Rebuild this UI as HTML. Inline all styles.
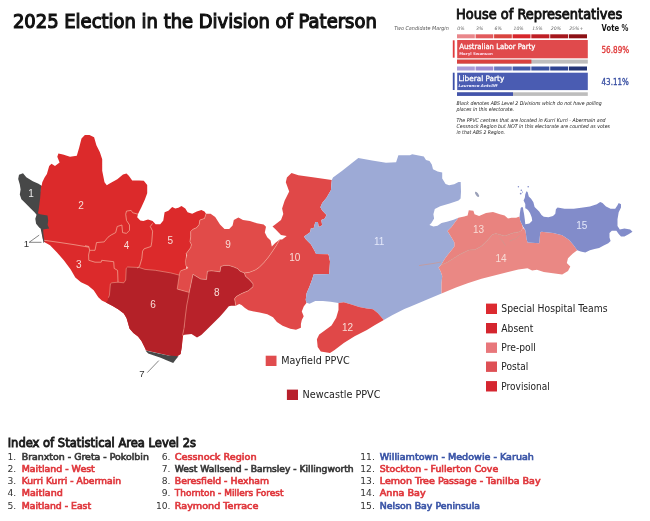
<!DOCTYPE html>
<html><head><meta charset="utf-8"><title>2025 Election in the Division of Paterson</title>
<style>
html,body{margin:0;padding:0;background:#fff;}
body{width:650px;height:521px;overflow:hidden;position:relative;font-family:"Liberation Sans",sans-serif;}
svg{position:absolute;left:0;top:0;}
.lbl{font-family:"Liberation Sans",sans-serif;font-size:10px;text-anchor:middle;font-weight:normal;}
.olbl{font-family:"Liberation Sans",sans-serif;font-size:9.6px;text-anchor:middle;fill:#333;}
</style></head><body>
<svg width="650" height="521" viewBox="0 0 650 521">
<polygon points="41.7,185.5 42.3,182.2 44.6,177.6 46.9,174.1 49.2,166.0 51.5,163.8 55.0,166.0 59.6,162.6 57.3,156.8 58.4,153.4 63.0,154.5 70.0,156.8 76.8,155.7 79.2,147.6 81.5,138.4 84.9,135.0 89.5,135.0 94.1,137.3 96.4,145.3 99.9,152.2 102.2,159.2 102.2,170.7 104.5,182.2 106.8,185.3 109.2,183.8 117.3,179.2 123.0,174.6 126.5,173.5 128.8,175.8 132.2,180.4 139.2,180.4 143.8,180.7 147.2,185.0 147.2,193.3 144.9,199.5 141.5,207.0 138.0,214.0 137.2,217.3 140.3,220.4 143.3,221.1 148.0,219.6 152.6,221.1 155.6,224.2 160.2,224.2 163.3,220.4 164.6,212.3 168.4,210.7 172.2,206.9 175.3,208.4 178.4,207.7 181.5,206.1 185.3,208.4 187.6,212.3 192.2,213.8 196.8,211.5 201.4,210.0 204.5,211.5 206.0,213.8 204.5,218.4 199.9,220.0 199.1,224.6 196.8,227.6 193.0,229.2 190.7,231.5 190.7,236.9 189.9,241.5 191.4,244.5 190.7,247.6 188.4,250.7 186.1,253.7 186.1,259.9 186.8,264.5 186.1,269.1 181.5,270.6 180.7,275.2 178.0,289.5 189.5,292.0 187.5,309.9 184.0,328.3 181.8,346.7 180.6,354.0 176.0,357.0 146.0,350.2 144.5,347.0 141.5,341.0 138.0,336.4 133.4,332.9 129.5,328.5 128.0,323.0 126.5,318.0 123.8,313.5 118.5,309.5 112.7,306.0 106.0,302.5 101.8,300.6 98.3,297.2 93.7,290.2 88.0,285.6 81.0,282.2 75.3,277.6 70.7,269.5 63.8,260.3 56.8,252.2 50.0,245.3 44.2,241.9 43.0,239.6 41.9,233.8 42.5,229.0 37.0,220.0 36.8,212.5 39.0,200.0 40.8,186.0" fill="#dc2a2b" />
<polygon points="107.5,301.0 108.4,297.7 109.4,295.3 110.4,283.8 111.8,282.8 118.0,282.2 123.8,282.8 125.7,280.0 126.2,268.4 127.6,267.0 139.1,267.5 145.0,269.4 155.4,270.3 170.7,272.9 179.6,275.2 177.2,289.1 189.2,292.4 187.8,300.1 186.8,305.0 185.5,315.0 184.0,328.3 182.5,335.5 181.8,346.7 180.6,354.0 176.0,357.0 146.0,350.2 144.5,347.0 141.5,341.0 138.0,336.4 133.4,332.9 129.5,328.5 128.0,323.0 126.5,318.0 123.8,313.5 118.5,309.5 112.7,306.0 106.0,302.5" fill="#b42128" />
<polygon points="206.0,213.8 210.6,213.8 215.2,216.9 220.0,224.5 224.5,229.1 229.2,229.1 232.6,225.6 233.8,219.9 238.4,217.6 243.0,219.9 249.9,221.0 256.8,223.3 263.7,224.5 266.0,226.8 264.8,232.5 267.2,237.2 270.6,240.6 271.8,246.4 275.2,242.9 279.8,239.5 276.0,246.0 272.0,252.0 268.5,257.0 264.0,262.5 259.0,267.5 255.3,270.0 249.5,272.3 244.4,272.9 239.8,271.1 238.0,268.8 234.0,267.1 228.8,265.4 224.2,265.4 220.8,266.5 220.0,271.8 216.0,271.3 211.3,270.8 207.4,271.3 206.5,279.5 200.7,279.0 195.0,275.6 193.0,274.2 189.2,292.4 177.2,289.1 179.6,273.2 180.6,270.8 187.3,268.4 187.8,267.5 185.8,265.6 185.4,260.8 186.8,255.0 186.1,253.7 188.4,250.7 190.7,247.6 191.4,244.5 189.9,241.5 190.7,236.9 190.7,231.5 193.0,229.2 196.8,227.6 199.1,224.6 199.9,220.0 204.5,218.4" fill="#e14b49" />
<polygon points="193.0,274.2 195.0,275.6 200.7,279.0 206.5,279.5 207.4,271.3 211.3,270.8 216.0,271.3 220.0,271.8 220.8,266.5 224.2,265.4 228.8,265.4 234.0,267.1 238.0,268.8 239.8,271.1 244.4,272.9 245.5,276.3 249.5,279.8 253.0,283.8 253.0,286.7 248.4,290.7 241.5,293.6 236.3,296.5 234.6,298.8 235.2,302.2 235.7,305.7 231.1,305.7 228.8,306.2 224.0,312.0 219.8,316.8 214.5,322.1 208.2,328.3 201.3,335.0 197.0,337.5 191.5,334.0 184.6,334.8 182.5,335.5 184.0,328.3 185.5,315.0 186.8,305.0 187.8,300.1 189.2,292.4" fill="#b8222a" />
<polygon points="275.2,224.5 281.0,219.9 283.3,214.1 282.1,208.4 284.6,200.7 289.2,191.5 285.8,182.2 286.9,177.6 291.5,173.0 298.4,175.3 314.5,177.6 331.8,180.0 331.4,184.0 331.0,190.0 326.5,197.7 322.2,202.9 320.4,207.2 322.2,210.6 326.5,215.0 324.8,218.4 321.3,220.1 322.2,225.3 318.7,227.1 317.9,222.0 315.3,222.0 313.5,228.8 311.0,228.0 310.1,232.3 306.6,234.8 304.0,236.6 305.8,239.2 311.0,244.4 314.4,250.4 316.1,254.0 328.5,254.2 330.0,261.5 329.2,274.0 313.5,274.5 312.4,278.8 309.5,286.5 306.6,293.2 305.7,299.9 306.6,302.8 303.7,306.6 301.8,311.4 303.7,316.2 301.8,320.0 300.9,323.9 300.9,327.7 296.0,329.7 290.3,328.7 282.6,325.8 276.9,322.0 273.0,317.2 267.3,314.3 259.6,312.4 253.8,311.4 248.4,310.3 245.0,308.0 241.5,305.1 239.2,304.0 235.7,305.7 235.2,302.2 234.6,298.8 236.3,296.5 241.5,293.6 248.4,290.7 253.0,286.7 253.0,283.8 249.5,279.8 245.5,276.3 244.4,272.9 249.5,272.3 255.3,270.0 259.0,267.5 264.0,262.5 268.5,257.0 272.0,252.0 276.0,246.0 279.8,239.5 282.1,239.5 286.7,236.0 281.0,234.9 275.2,229.1 272.5,226.5" fill="#e04848" />
<polygon points="331.8,180.0 333.0,177.6 342.2,170.7 358.3,158.0 372.1,160.4 386.0,162.7 396.1,162.2 398.4,155.3 410.0,155.3 412.2,154.2 423.8,156.5 426.0,160.0 429.5,161.1 431.8,164.5 433.0,169.2 437.6,171.5 442.2,172.6 442.2,178.4 445.6,184.1 449.1,185.3 454.2,184.2 458.5,182.0 460.7,182.0 461.0,191.7 460.6,198.5 458.5,200.5 455.6,201.6 449.6,203.6 440.2,206.3 434.8,209.0 433.4,214.3 434.1,218.4 431.4,223.1 429.4,225.1 433.4,226.4 437.5,225.8 441.5,223.1 446.9,221.7 453.6,219.7 458.4,217.7 455.0,222.3 451.5,226.9 447.5,230.9 449.2,233.8 452.1,238.4 454.4,242.4 454.4,246.5 450.9,251.1 448.0,254.5 444.6,259.1 441.1,265.0 438.5,267.5 440.7,271.5 442.2,276.1 441.5,283.7 441.5,293.5 425.4,300.2 410.0,306.8 404.4,309.1 392.1,315.2 383.8,320.0 377.7,313.1 373.0,309.2 366.9,308.5 359.2,306.9 351.5,304.6 343.8,302.3 338.5,303.1 330.6,301.8 323.0,300.9 315.3,300.9 309.5,303.7 306.6,302.8 305.7,299.9 306.6,293.2 309.5,286.5 312.4,278.8 313.5,274.5 329.2,274.0 330.0,261.5 328.5,254.0 316.1,254.0 314.4,250.4 311.0,244.4 305.8,239.2 304.0,236.6 306.6,234.8 310.1,232.3 311.0,228.0 313.5,228.8 315.3,222.0 317.9,222.0 318.7,227.1 322.2,225.3 321.3,220.1 324.8,218.4 326.5,215.0 322.2,210.6 320.4,207.2 322.2,202.9 326.5,197.7 331.0,190.0 331.4,184.0" fill="#9daad6" />
<polygon points="338.5,303.1 343.8,302.3 351.5,304.6 359.2,306.9 366.9,308.5 373.0,309.2 377.7,313.1 383.8,320.0 375.0,325.0 366.9,330.0 354.6,336.2 343.8,343.1 334.6,350.0 330.0,353.1 320.8,351.5 317.7,346.9 316.9,339.2 319.2,334.6 325.4,330.0 331.5,325.4 336.2,317.7 338.5,310.0" fill="#e04848" />
<polygon points="458.4,217.7 464.2,216.5 467.6,215.4 468.8,210.2 473.4,210.8 474.5,214.2 479.1,216.0 486.0,213.0 493.0,211.9 499.9,214.2 504.6,215.5 508.0,218.4 511.5,217.8 516.1,217.8 519.6,216.4 520.2,220.7 521.9,224.2 523.0,228.0 521.1,230.7 518.8,231.9 513.0,233.0 505.0,235.9 495.7,233.6 492.3,234.8 487.7,240.0 481.9,245.7 475.0,249.7 468.8,250.0 459.6,254.5 452.6,259.1 446.9,262.6 441.1,265.0 444.6,259.1 448.0,254.5 450.9,251.1 454.4,246.5 454.4,242.4 452.1,238.4 449.2,233.8 447.5,230.9 451.5,226.9 455.0,222.3" fill="#e9837f" />
<polygon points="441.1,265.0 446.9,262.6 452.6,259.1 459.6,254.5 468.8,250.0 475.0,249.7 481.9,245.7 487.7,240.0 492.3,234.8 495.7,233.6 505.0,235.9 513.0,233.0 518.8,231.9 521.1,230.7 523.0,228.0 525.3,229.9 525.9,233.4 526.5,239.1 527.6,242.6 539.2,243.2 540.3,232.2 541.5,231.8 553.0,233.0 562.2,235.3 569.2,239.9 573.8,245.6 577.2,250.2 572.6,253.7 568.0,258.3 566.8,262.9 570.3,266.4 568.0,271.0 562.2,274.4 553.0,273.3 543.8,272.1 536.9,269.8 532.1,270.6 527.5,268.3 518.3,269.5 509.1,271.8 495.3,275.2 481.5,278.7 467.6,283.3 456.0,287.6 441.5,293.5 441.5,283.7 442.2,276.1 440.7,271.5 438.5,267.5" fill="#ea8884" />
<polygon points="519.6,216.4 519.8,213.5 520.7,208.0 521.9,206.9 523.0,207.5 523.6,211.5 524.2,215.0 525.3,212.0 525.3,204.0 523.6,200.5 524.8,197.7 525.3,194.2 526.5,191.3 527.6,191.9 528.8,196.5 531.1,198.8 533.4,202.3 534.6,206.9 536.9,209.2 539.2,211.5 541.5,215.0 543.8,216.7 548.4,217.2 553.0,216.1 555.3,213.8 555.9,209.2 557.6,207.5 564.5,208.8 573.8,208.8 583.0,207.6 589.9,206.5 596.8,204.2 600.2,201.9 602.5,203.0 606.0,206.5 610.6,208.8 615.2,208.8 617.5,205.3 618.7,203.0 621.0,204.2 621.0,207.6 618.7,212.2 617.5,219.2 617.5,226.0 619.8,229.5 624.4,228.4 630.2,229.5 632.5,231.8 629.0,234.1 624.4,236.4 621.0,236.4 618.7,234.1 616.4,230.7 611.8,230.7 609.5,233.0 609.5,237.6 610.6,241.0 608.3,243.3 603.7,245.6 599.1,247.9 594.5,249.1 589.9,250.2 585.3,252.5 580.7,251.4 577.2,250.2 573.8,245.6 569.2,239.9 562.2,235.3 553.0,233.0 541.5,231.8 540.3,232.2 539.2,243.2 527.6,242.6 526.5,239.1 525.9,233.4 525.3,229.9 523.0,226.5 521.9,224.2 520.2,220.7" fill="#828cca" />
<polygon points="523.6,208.0 526.0,208.5 528.0,210.0 530.0,213.0 531.7,217.2 532.2,220.7 529.4,223.6 525.3,224.2 524.8,219.6 524.2,215.0" fill="#fff" />
<polygon points="18.2,178.9 19.0,174.8 23.0,173.2 26.3,177.2 32.8,181.3 38.5,183.8 41.2,185.4 40.6,192.0 40.2,197.6 39.4,204.2 38.5,210.7 37.9,213.3 40.0,214.2 47.5,215.4 48.2,220.5 47.6,225.0 49.2,228.6 42.6,229.4 39.4,227.8 36.1,223.7 35.3,218.8 36.6,214.8 34.5,212.3 30.4,208.2 25.5,203.3 21.4,199.3 19.8,194.4 20.6,189.5 19.8,184.6" fill="#474848" />
<polygon points="145.4,350.6 158.8,353.4 168.4,355.4 178.5,356.3 176.0,359.2 173.2,363.0 166.5,360.2 160.7,357.8 154.0,355.4 148.2,353.4" fill="#474848" />
<polygon points="40.5,227.8 43.2,228.8 43.4,234.0 44.4,241.5 43.6,243.2 42.4,237.0 41.2,231.5" fill="#474848" />
<ellipse cx="477" cy="194.3" rx="1.3" ry="3" transform="rotate(-35 477 194.3)" fill="#9aa0b8"/>
<circle cx="518.4" cy="186.7" r="0.7" fill="#828cca"/>
<circle cx="528.2" cy="186.7" r="0.8" fill="#828cca"/>
<circle cx="521.3" cy="190.2" r="0.8" fill="#828cca"/>
<circle cx="520.7" cy="193.6" r="0.9" fill="#828cca"/>
<circle cx="522.5" cy="192" r="0.6" fill="#828cca"/>
<polyline points="44.2,240.3 60.0,242.5 75.0,244.8 89.0,247.2" fill="none" stroke="#f3b39f" stroke-width="0.7" stroke-linejoin="round"/>
<polyline points="85.0,245.7 88.8,246.5 89.6,250.3 95.0,250.3 96.5,242.6 104.2,241.9 108.0,237.2 111.1,235.0 115.7,232.6 117.2,226.5 121.9,225.0 122.6,232.6 126.5,233.4 129.5,230.3 129.5,225.0 126.5,220.4 125.7,214.2 126.5,211.1 131.1,210.4 132.6,212.7 138.0,214.2" fill="none" stroke="#f3b39f" stroke-width="0.7" stroke-linejoin="round"/>
<polyline points="89.6,250.3 88.6,255.0 88.8,260.3 95.0,262.2 101.2,262.2 101.7,260.3 113.7,261.7 114.2,268.4 117.6,270.4 118.0,282.2" fill="none" stroke="#f3b39f" stroke-width="0.7" stroke-linejoin="round"/>
<polyline points="152.6,223.4 150.3,226.5 152.6,231.1 151.8,241.9 151.0,246.5 144.1,248.8 142.6,251.1 141.8,258.7 139.5,266.4 137.2,268.0" fill="none" stroke="#f3b39f" stroke-width="0.7" stroke-linejoin="round"/>
<polyline points="441.1,265.0 446.9,262.6 452.6,259.1 459.6,254.5 468.8,250.0 475.0,249.7 481.9,245.7 487.7,240.0 492.3,234.8 495.7,233.6 505.0,235.9 513.0,233.0 518.8,231.9 521.1,230.7" fill="none" stroke="#cf968e" stroke-width="0.7" stroke-linejoin="round"/>
<polyline points="499.2,237.6 502.6,241.1 505.5,245.7" fill="none" stroke="#cf968e" stroke-width="0.7" stroke-linejoin="round"/>
<polyline points="509.5,241.1 516.5,238.2 519.9,235.3" fill="none" stroke="#cf968e" stroke-width="0.7" stroke-linejoin="round"/>
<polyline points="419.0,265.6 426.0,264.5 433.0,263.5 438.5,262.5 441.0,262.0" fill="none" stroke="#cf968e" stroke-width="0.7" stroke-linejoin="round"/>
<polyline points="206.0,213.8 204.5,218.4 199.9,220.0 199.1,224.6 196.8,227.6 193.0,229.2 190.7,231.5 190.7,236.9 189.9,241.5 191.4,244.5 190.7,247.6 188.4,250.7 186.1,253.7 186.8,255.0 185.4,260.8 185.8,265.6 187.8,267.5 187.3,268.4 180.6,270.8 179.6,273.2 177.2,289.1 189.2,292.4 193.0,274.2" fill="none" stroke="#f3b39f" stroke-width="0.6" stroke-linejoin="round" opacity="0.85"/>
<polyline points="108.4,297.7 109.4,295.3 110.4,283.8 111.8,282.8 118.0,282.2 123.8,282.8 125.7,280.0 126.2,268.4 127.6,267.0 139.1,267.5 145.0,269.4 155.4,270.3 170.7,272.9 179.6,275.2" fill="none" stroke="#f3b39f" stroke-width="0.6" stroke-linejoin="round" opacity="0.85"/>
<polyline points="189.2,292.4 187.8,300.1 186.8,305.0 185.5,315.0 184.0,328.3 182.5,335.5" fill="none" stroke="#f3b39f" stroke-width="0.6" stroke-linejoin="round" opacity="0.85"/>
<polyline points="193.0,274.2 195.0,275.6 200.7,279.0 206.5,279.5 207.4,271.3 211.3,270.8 216.0,271.3 220.0,271.8 220.8,266.5 224.2,265.4 228.8,265.4 234.0,267.1 238.0,268.8 239.8,271.1 244.4,272.9" fill="none" stroke="#f3b39f" stroke-width="0.6" stroke-linejoin="round" opacity="0.85"/>
<polyline points="244.4,272.9 245.5,276.3 249.5,279.8 253.0,283.8 253.0,286.7 248.4,290.7 241.5,293.6 236.3,296.5 234.6,298.8 235.2,302.2 235.7,305.7" fill="none" stroke="#f3b39f" stroke-width="0.6" stroke-linejoin="round" opacity="0.85"/>
<polyline points="244.4,272.9 249.5,272.3 255.3,270.0 259.0,267.5 264.0,262.5 268.5,257.0 272.0,252.0 276.0,246.0 279.8,239.5" fill="none" stroke="#f3b39f" stroke-width="0.6" stroke-linejoin="round" opacity="0.85"/>
<text x="31.1" y="196.8" class="lbl" fill="#eeeeee">1</text>
<text x="81" y="208.7" class="lbl" fill="#f8dcd6">2</text>
<text x="78.7" y="267.9" class="lbl" fill="#f8dcd6">3</text>
<text x="126.5" y="249.0" class="lbl" fill="#f8dcd6">4</text>
<text x="170.2" y="244.4" class="lbl" fill="#f8dcd6">5</text>
<text x="153" y="307.8" class="lbl" fill="#f8dcd6">6</text>
<text x="216.8" y="296.3" class="lbl" fill="#f8dcd6">8</text>
<text x="228" y="248.2" class="lbl" fill="#f8dcd6">9</text>
<text x="294.8" y="260.9" class="lbl" fill="#f8dcd6">10</text>
<text x="379.2" y="245.1" class="lbl" fill="#e4e8fa">11</text>
<text x="347.6" y="331.1" class="lbl" fill="#f8dcd6">12</text>
<text x="478.5" y="232.7" class="lbl" fill="#f8dcd6">13</text>
<text x="501" y="262.1" class="lbl" fill="#f8dcd6">14</text>
<text x="581.8" y="228.6" class="lbl" fill="#e4e8fa">15</text>
<polyline points="39.2,235.1 29.2,242.3 41.5,242.3" fill="none" stroke="#333" stroke-width="0.6"/>
<text x="26.3" y="246.5" class="olbl">1</text>
<line x1="147.3" y1="372.6" x2="158.8" y2="360.6" stroke="#333" stroke-width="0.6"/>
<text x="141.8" y="376.5" class="olbl">7</text>
<text x="12.9" y="28.3" font-family='"DejaVu Sans","Liberation Sans",sans-serif' font-size="19.6" font-weight="normal" font-style="normal" fill="#111" text-anchor="start" textLength="363.9" lengthAdjust="spacingAndGlyphs" stroke="#111" stroke-width="1.2">2025 Election in the Division of Paterson</text>
<text x="456" y="19.1" font-family='"DejaVu Sans","Liberation Sans",sans-serif' font-size="13.3" font-weight="normal" font-style="normal" fill="#111" text-anchor="start" textLength="166.2" lengthAdjust="spacingAndGlyphs" stroke="#111" stroke-width="0.85">House of Representatives</text>
<text x="394.3" y="30.1" font-family='"DejaVu Sans","Liberation Sans",sans-serif' font-size="5.4" font-weight="normal" font-style="italic" fill="#555" text-anchor="start" textLength="54.5" lengthAdjust="spacingAndGlyphs" >Two Candidate Margin</text>
<text x="457.3" y="30.3" font-family='"DejaVu Sans","Liberation Sans",sans-serif' font-size="4.6" font-weight="normal" font-style="italic" fill="#666" text-anchor="start" >0%</text>
<text x="476" y="30.3" font-family='"DejaVu Sans","Liberation Sans",sans-serif' font-size="4.6" font-weight="normal" font-style="italic" fill="#666" text-anchor="start" >3%</text>
<text x="494.5" y="30.3" font-family='"DejaVu Sans","Liberation Sans",sans-serif' font-size="4.6" font-weight="normal" font-style="italic" fill="#666" text-anchor="start" >6%</text>
<text x="513.5" y="30.3" font-family='"DejaVu Sans","Liberation Sans",sans-serif' font-size="4.6" font-weight="normal" font-style="italic" fill="#666" text-anchor="start" >10%</text>
<text x="532.3" y="30.3" font-family='"DejaVu Sans","Liberation Sans",sans-serif' font-size="4.6" font-weight="normal" font-style="italic" fill="#666" text-anchor="start" >15%</text>
<text x="550.8" y="30.3" font-family='"DejaVu Sans","Liberation Sans",sans-serif' font-size="4.6" font-weight="normal" font-style="italic" fill="#666" text-anchor="start" >20%</text>
<text x="569.2" y="30.3" font-family='"DejaVu Sans","Liberation Sans",sans-serif' font-size="4.6" font-weight="normal" font-style="italic" fill="#666" text-anchor="start" >25%+</text>
<text x="601.5" y="30.8" font-family='"DejaVu Sans","Liberation Sans",sans-serif' font-size="8.6" font-weight="bold" font-style="normal" fill="#111" text-anchor="start" textLength="26.8" lengthAdjust="spacingAndGlyphs" >Vote %</text>
<rect x="457" y="34.3" width="17.8" height="4" fill="#e9878b"/>
<rect x="457" y="66.5" width="17.8" height="4" fill="#a99bd8"/>
<rect x="475.6" y="34.3" width="17.7" height="4" fill="#e25a5c"/>
<rect x="475.6" y="66.5" width="17.7" height="4" fill="#9b8ad2"/>
<rect x="494.1" y="34.3" width="17.7" height="4" fill="#d9443f"/>
<rect x="494.1" y="66.5" width="17.7" height="4" fill="#6c79c0"/>
<rect x="512.6" y="34.3" width="17.9" height="4" fill="#d7262b"/>
<rect x="512.6" y="66.5" width="17.9" height="4" fill="#4459aa"/>
<rect x="531.3" y="34.3" width="18.1" height="4" fill="#bf1f25"/>
<rect x="531.3" y="66.5" width="18.1" height="4" fill="#3a52a2"/>
<rect x="550.2" y="34.3" width="17.9" height="4" fill="#a5161c"/>
<rect x="550.2" y="66.5" width="17.9" height="4" fill="#2d4392"/>
<rect x="568.9" y="34.3" width="18.1" height="4" fill="#8c1015"/>
<rect x="568.9" y="66.5" width="18.1" height="4" fill="#233476"/>
<rect x="452.8" y="40.3" width="1.8" height="17.4" fill="#e03a3c"/>
<rect x="457.2" y="40" width="130.6" height="18.3" fill="#e04a4c"/>
<text x="459.2" y="49.1" font-family='"DejaVu Sans","Liberation Sans",sans-serif' font-size="7.5" font-weight="normal" font-style="normal" fill="#fff" text-anchor="start" textLength="76.2" lengthAdjust="spacingAndGlyphs" stroke="#fff" stroke-width="0.3">Australian Labor Party</text>
<text x="459.2" y="54.7" font-family='"DejaVu Sans","Liberation Sans",sans-serif' font-size="3.8" font-weight="bold" font-style="normal" fill="#fde" text-anchor="start" textLength="33.5" lengthAdjust="spacingAndGlyphs" >Meryl Swanson</text>
<rect x="457" y="59.6" width="130.8" height="4" fill="#bdbdbd"/>
<rect x="457" y="59.6" width="74.4" height="4" fill="#d9413f"/>
<rect x="452.8" y="72.7" width="1.8" height="17.3" fill="#3c50a8"/>
<rect x="457.2" y="72.7" width="130.6" height="17.4" fill="#4a5cb2"/>
<text x="458.5" y="80.8" font-family='"DejaVu Sans","Liberation Sans",sans-serif' font-size="7.5" font-weight="normal" font-style="normal" fill="#fff" text-anchor="start" textLength="45.7" lengthAdjust="spacingAndGlyphs" stroke="#fff" stroke-width="0.3">Liberal Party</text>
<text x="458.5" y="86.5" font-family='"DejaVu Sans","Liberation Sans",sans-serif' font-size="3.8" font-weight="bold" font-style="italic" fill="#eef" text-anchor="start" textLength="38.8" lengthAdjust="spacingAndGlyphs" >Laurence Antcliff</text>
<rect x="457" y="92.3" width="130.8" height="3.6" fill="#bdbdbd"/>
<rect x="457" y="92.3" width="56" height="3.6" fill="#4354ac"/>
<text x="601.5" y="52.5" font-family='"DejaVu Sans","Liberation Sans",sans-serif' font-size="8.8" font-weight="normal" font-style="normal" fill="#e03c3c" text-anchor="start" textLength="27.7" lengthAdjust="spacingAndGlyphs" stroke="#e03c3c" stroke-width="0.35">56.89%</text>
<text x="601.5" y="84.8" font-family='"DejaVu Sans","Liberation Sans",sans-serif' font-size="8.8" font-weight="normal" font-style="normal" fill="#3a50a3" text-anchor="start" textLength="27.4" lengthAdjust="spacingAndGlyphs" stroke="#3a50a3" stroke-width="0.35">43.11%</text>
<text x="456.5" y="104.6" font-family='"DejaVu Sans","Liberation Sans",sans-serif' font-size="5.2" font-weight="normal" font-style="italic" fill="#222" text-anchor="start" textLength="145.2" lengthAdjust="spacingAndGlyphs" >Black denotes ABS Level 2 Divisions which do not have polling</text>
<text x="456.5" y="110.6" font-family='"DejaVu Sans","Liberation Sans",sans-serif' font-size="5.2" font-weight="normal" font-style="italic" fill="#222" text-anchor="start" textLength="57.5" lengthAdjust="spacingAndGlyphs" >places in this electorate.</text>
<text x="456.5" y="122.2" font-family='"DejaVu Sans","Liberation Sans",sans-serif' font-size="5.2" font-weight="normal" font-style="italic" fill="#222" text-anchor="start" textLength="149.1" lengthAdjust="spacingAndGlyphs" >The PPVC centres that are located in Kurri Kurri - Abermain and</text>
<text x="456.5" y="128.2" font-family='"DejaVu Sans","Liberation Sans",sans-serif' font-size="5.2" font-weight="normal" font-style="italic" fill="#222" text-anchor="start" textLength="153.5" lengthAdjust="spacingAndGlyphs" >Cessnock Region but NOT in this electorate are counted as votes</text>
<text x="456.5" y="133.9" font-family='"DejaVu Sans","Liberation Sans",sans-serif' font-size="5.2" font-weight="normal" font-style="italic" fill="#222" text-anchor="start" textLength="48.5" lengthAdjust="spacingAndGlyphs" >in that ABS 2 Region.</text>
<rect x="486" y="303.6" width="11" height="10.4" fill="#dc2a30"/>
<text x="501.3" y="312.40000000000003" font-family='"DejaVu Sans","Liberation Sans",sans-serif' font-size="10" font-weight="normal" font-style="normal" fill="#222" text-anchor="start" textLength="106.2" lengthAdjust="spacingAndGlyphs" >Special Hospital Teams</text>
<rect x="486" y="323.0" width="11" height="10.4" fill="#d4252e"/>
<text x="501.3" y="331.8" font-family='"DejaVu Sans","Liberation Sans",sans-serif' font-size="10" font-weight="normal" font-style="normal" fill="#222" text-anchor="start" textLength="32" lengthAdjust="spacingAndGlyphs" >Absent</text>
<rect x="486" y="342.5" width="11" height="10.4" fill="#e8777b"/>
<text x="501.3" y="351.3" font-family='"DejaVu Sans","Liberation Sans",sans-serif' font-size="10" font-weight="normal" font-style="normal" fill="#222" text-anchor="start" textLength="34.5" lengthAdjust="spacingAndGlyphs" >Pre-poll</text>
<rect x="486" y="361.5" width="11" height="10.4" fill="#de5055"/>
<text x="501.3" y="370.3" font-family='"DejaVu Sans","Liberation Sans",sans-serif' font-size="10" font-weight="normal" font-style="normal" fill="#222" text-anchor="start" textLength="27.1" lengthAdjust="spacingAndGlyphs" >Postal</text>
<rect x="486" y="381.1" width="11" height="10.4" fill="#d52630"/>
<text x="501.3" y="389.90000000000003" font-family='"DejaVu Sans","Liberation Sans",sans-serif' font-size="10" font-weight="normal" font-style="normal" fill="#222" text-anchor="start" textLength="48.5" lengthAdjust="spacingAndGlyphs" >Provisional</text>
<rect x="265.7" y="355.7" width="10.8" height="10.3" fill="#e04c4e"/>
<text x="281.2" y="364.3" font-family='"DejaVu Sans","Liberation Sans",sans-serif' font-size="10" font-weight="normal" font-style="normal" fill="#222" text-anchor="start" textLength="68.5" lengthAdjust="spacingAndGlyphs" >Mayfield PPVC</text>
<rect x="286.9" y="389.6" width="11.1" height="10.4" fill="#b8202c"/>
<text x="302.6" y="398.2" font-family='"DejaVu Sans","Liberation Sans",sans-serif' font-size="10" font-weight="normal" font-style="normal" fill="#222" text-anchor="start" textLength="77.8" lengthAdjust="spacingAndGlyphs" >Newcastle PPVC</text>
<text x="7.7" y="446.6" font-family='"DejaVu Sans","Liberation Sans",sans-serif' font-size="13" font-weight="normal" font-style="normal" fill="#1c1c1c" text-anchor="start" textLength="188.3" lengthAdjust="spacingAndGlyphs" stroke="#1c1c1c" stroke-width="0.95">Index of Statistical Area Level 2s</text>
<text x="16.2" y="459.7" font-family='"DejaVu Sans","Liberation Sans",sans-serif' font-size="9.2" font-weight="normal" font-style="normal" fill="#333" text-anchor="end" >1.</text>
<text x="21.7" y="459.7" font-family='"DejaVu Sans","Liberation Sans",sans-serif' font-size="9.2" font-weight="normal" font-style="normal" fill="#3a3a3a" text-anchor="start" textLength="127.2" lengthAdjust="spacingAndGlyphs" stroke="#3a3a3a" stroke-width="0.65">Branxton - Greta - Pokolbin</text>
<text x="16.2" y="471.95" font-family='"DejaVu Sans","Liberation Sans",sans-serif' font-size="9.2" font-weight="normal" font-style="normal" fill="#333" text-anchor="end" >2.</text>
<text x="21.7" y="471.95" font-family='"DejaVu Sans","Liberation Sans",sans-serif' font-size="9.2" font-weight="normal" font-style="normal" fill="#e0393e" text-anchor="start" textLength="73.1" lengthAdjust="spacingAndGlyphs" stroke="#e0393e" stroke-width="0.65">Maitland - West</text>
<text x="16.2" y="484.2" font-family='"DejaVu Sans","Liberation Sans",sans-serif' font-size="9.2" font-weight="normal" font-style="normal" fill="#333" text-anchor="end" >3.</text>
<text x="21.7" y="484.2" font-family='"DejaVu Sans","Liberation Sans",sans-serif' font-size="9.2" font-weight="normal" font-style="normal" fill="#e0393e" text-anchor="start" textLength="99.4" lengthAdjust="spacingAndGlyphs" stroke="#e0393e" stroke-width="0.65">Kurri Kurri - Abermain</text>
<text x="16.2" y="496.45" font-family='"DejaVu Sans","Liberation Sans",sans-serif' font-size="9.2" font-weight="normal" font-style="normal" fill="#333" text-anchor="end" >4.</text>
<text x="21.7" y="496.45" font-family='"DejaVu Sans","Liberation Sans",sans-serif' font-size="9.2" font-weight="normal" font-style="normal" fill="#e0393e" text-anchor="start" textLength="41.1" lengthAdjust="spacingAndGlyphs" stroke="#e0393e" stroke-width="0.65">Maitland</text>
<text x="16.2" y="508.7" font-family='"DejaVu Sans","Liberation Sans",sans-serif' font-size="9.2" font-weight="normal" font-style="normal" fill="#333" text-anchor="end" >5.</text>
<text x="21.7" y="508.7" font-family='"DejaVu Sans","Liberation Sans",sans-serif' font-size="9.2" font-weight="normal" font-style="normal" fill="#e0393e" text-anchor="start" textLength="69.4" lengthAdjust="spacingAndGlyphs" stroke="#e0393e" stroke-width="0.65">Maitland - East</text>
<text x="170.5" y="459.7" font-family='"DejaVu Sans","Liberation Sans",sans-serif' font-size="9.2" font-weight="normal" font-style="normal" fill="#333" text-anchor="end" >6.</text>
<text x="174.8" y="459.7" font-family='"DejaVu Sans","Liberation Sans",sans-serif' font-size="9.2" font-weight="normal" font-style="normal" fill="#e0393e" text-anchor="start" textLength="81.8" lengthAdjust="spacingAndGlyphs" stroke="#e0393e" stroke-width="0.65">Cessnock Region</text>
<text x="170.5" y="471.95" font-family='"DejaVu Sans","Liberation Sans",sans-serif' font-size="9.2" font-weight="normal" font-style="normal" fill="#333" text-anchor="end" >7.</text>
<text x="174.8" y="471.95" font-family='"DejaVu Sans","Liberation Sans",sans-serif' font-size="9.2" font-weight="normal" font-style="normal" fill="#3a3a3a" text-anchor="start" textLength="178.9" lengthAdjust="spacingAndGlyphs" stroke="#3a3a3a" stroke-width="0.65">West Wallsend - Barnsley - Killingworth</text>
<text x="170.5" y="484.2" font-family='"DejaVu Sans","Liberation Sans",sans-serif' font-size="9.2" font-weight="normal" font-style="normal" fill="#333" text-anchor="end" >8.</text>
<text x="174.8" y="484.2" font-family='"DejaVu Sans","Liberation Sans",sans-serif' font-size="9.2" font-weight="normal" font-style="normal" fill="#e0393e" text-anchor="start" textLength="94.3" lengthAdjust="spacingAndGlyphs" stroke="#e0393e" stroke-width="0.65">Beresfield - Hexham</text>
<text x="170.5" y="496.45" font-family='"DejaVu Sans","Liberation Sans",sans-serif' font-size="9.2" font-weight="normal" font-style="normal" fill="#333" text-anchor="end" >9.</text>
<text x="174.8" y="496.45" font-family='"DejaVu Sans","Liberation Sans",sans-serif' font-size="9.2" font-weight="normal" font-style="normal" fill="#e0393e" text-anchor="start" textLength="108.7" lengthAdjust="spacingAndGlyphs" stroke="#e0393e" stroke-width="0.65">Thornton - Millers Forest</text>
<text x="170.5" y="508.7" font-family='"DejaVu Sans","Liberation Sans",sans-serif' font-size="9.2" font-weight="normal" font-style="normal" fill="#333" text-anchor="end" >10.</text>
<text x="174.8" y="508.7" font-family='"DejaVu Sans","Liberation Sans",sans-serif' font-size="9.2" font-weight="normal" font-style="normal" fill="#e0393e" text-anchor="start" textLength="83.5" lengthAdjust="spacingAndGlyphs" stroke="#e0393e" stroke-width="0.65">Raymond Terrace</text>
<text x="374.9" y="459.7" font-family='"DejaVu Sans","Liberation Sans",sans-serif' font-size="9.2" font-weight="normal" font-style="normal" fill="#333" text-anchor="end" >11.</text>
<text x="379.8" y="459.7" font-family='"DejaVu Sans","Liberation Sans",sans-serif' font-size="9.2" font-weight="normal" font-style="normal" fill="#3d57a8" text-anchor="start" textLength="154.1" lengthAdjust="spacingAndGlyphs" stroke="#3d57a8" stroke-width="0.65">Williamtown - Medowie - Karuah</text>
<text x="374.9" y="471.95" font-family='"DejaVu Sans","Liberation Sans",sans-serif' font-size="9.2" font-weight="normal" font-style="normal" fill="#333" text-anchor="end" >12.</text>
<text x="379.8" y="471.95" font-family='"DejaVu Sans","Liberation Sans",sans-serif' font-size="9.2" font-weight="normal" font-style="normal" fill="#e0393e" text-anchor="start" textLength="118.4" lengthAdjust="spacingAndGlyphs" stroke="#e0393e" stroke-width="0.65">Stockton - Fullerton Cove</text>
<text x="374.9" y="484.2" font-family='"DejaVu Sans","Liberation Sans",sans-serif' font-size="9.2" font-weight="normal" font-style="normal" fill="#333" text-anchor="end" >13.</text>
<text x="379.8" y="484.2" font-family='"DejaVu Sans","Liberation Sans",sans-serif' font-size="9.2" font-weight="normal" font-style="normal" fill="#e0393e" text-anchor="start" textLength="160.8" lengthAdjust="spacingAndGlyphs" stroke="#e0393e" stroke-width="0.65">Lemon Tree Passage - Tanilba Bay</text>
<text x="374.9" y="496.45" font-family='"DejaVu Sans","Liberation Sans",sans-serif' font-size="9.2" font-weight="normal" font-style="normal" fill="#333" text-anchor="end" >14.</text>
<text x="379.8" y="496.45" font-family='"DejaVu Sans","Liberation Sans",sans-serif' font-size="9.2" font-weight="normal" font-style="normal" fill="#e0393e" text-anchor="start" textLength="45.9" lengthAdjust="spacingAndGlyphs" stroke="#e0393e" stroke-width="0.65">Anna Bay</text>
<text x="374.9" y="508.7" font-family='"DejaVu Sans","Liberation Sans",sans-serif' font-size="9.2" font-weight="normal" font-style="normal" fill="#333" text-anchor="end" >15.</text>
<text x="379.8" y="508.7" font-family='"DejaVu Sans","Liberation Sans",sans-serif' font-size="9.2" font-weight="normal" font-style="normal" fill="#3d57a8" text-anchor="start" textLength="100.3" lengthAdjust="spacingAndGlyphs" stroke="#3d57a8" stroke-width="0.65">Nelson Bay Peninsula</text>
</svg>
</body></html>
